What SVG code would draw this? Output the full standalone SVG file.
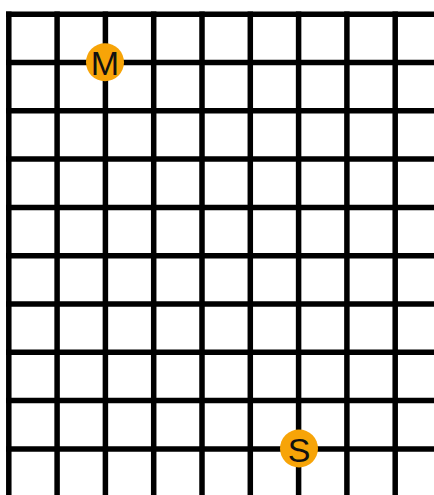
<svg xmlns="http://www.w3.org/2000/svg" width="434" height="495" viewBox="0 0 434 495">
<style>
.g line{stroke:#000;stroke-width:5.5}
.dot{fill:#F7A408}
.lbl{font-family:"Liberation Sans",Arial,sans-serif;font-size:34px;fill:#111;text-anchor:middle;dominant-baseline:central}
</style>
<rect width="434" height="495" fill="#fff"/>
<g id="grid" class="g">
<line x1="8.8" y1="11.4" x2="8.8" y2="495"/>
<line x1="57.1" y1="11.4" x2="57.1" y2="495"/>
<line x1="105.4" y1="11.4" x2="105.4" y2="495"/>
<line x1="153.7" y1="11.4" x2="153.7" y2="495"/>
<line x1="202" y1="11.4" x2="202" y2="495"/>
<line x1="250.3" y1="11.4" x2="250.3" y2="495"/>
<line x1="298.6" y1="11.4" x2="298.6" y2="495"/>
<line x1="346.9" y1="11.4" x2="346.9" y2="495"/>
<line x1="395.2" y1="11.4" x2="395.2" y2="495"/>
<line x1="6" y1="14.2" x2="434" y2="14.2"/>
<line x1="6" y1="62.5" x2="434" y2="62.5"/>
<line x1="6" y1="110.8" x2="434" y2="110.8"/>
<line x1="6" y1="159.1" x2="434" y2="159.1"/>
<line x1="6" y1="207.4" x2="434" y2="207.4"/>
<line x1="6" y1="255.7" x2="434" y2="255.7"/>
<line x1="6" y1="304" x2="434" y2="304"/>
<line x1="6" y1="352.3" x2="434" y2="352.3"/>
<line x1="6" y1="400.6" x2="434" y2="400.6"/>
<line x1="6" y1="448.9" x2="434" y2="448.9"/>
</g>
<g id="node-M">
<circle class="dot" cx="105" cy="62.2" r="19"/>
<text class="lbl" x="105" y="62.5">M</text>
</g>
<g id="node-S">
<circle class="dot" cx="299" cy="448.5" r="19"/>
<text class="lbl" x="299" y="449.5">S</text>
</g>
</svg>
